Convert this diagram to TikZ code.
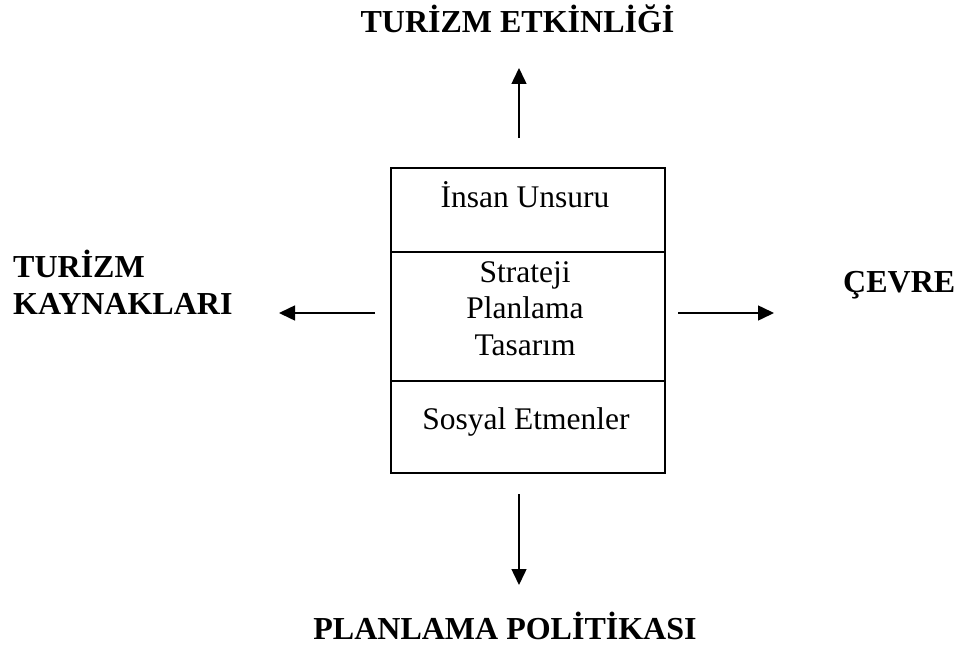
\documentclass[tikz,border=0pt]{standalone}
\usepackage{fontspec}
\setmainfont{Liberation Serif}
\usetikzlibrary{arrows.meta}
\begin{document}
\begin{tikzpicture}[x=1pt,y=-1pt,
  lbl/.style={font=\fontsize{32}{37}\selectfont\bfseries, inner sep=0pt},
  boxtxt/.style={font=\fontsize{31.5}{36.5}\selectfont, inner sep=0pt, align=center},
  cell/.style={draw, line width=1.5pt, minimum width=274pt, inner sep=0pt, anchor=north west},
  arr/.style={line width=1.5pt, -{Triangle[length=16pt,width=15pt]}}
]
\useasboundingbox (0,0) rectangle (955,650);
% box cells
\node[cell, minimum height=84pt] (c1) at (390,167) {};
\node[cell, minimum height=129pt] (c2) at (390,251) {};
\node[cell, minimum height=92pt] (c3) at (390,380) {};
% box texts
\node[boxtxt, anchor=base] (t1) at (525,207) {İnsan Unsuru};
\node[boxtxt, anchor=base] (t2a) at (525,282) {Strateji};
\node[boxtxt, anchor=base] (t2b) at (525,318) {Planlama};
\node[boxtxt, anchor=base] (t2c) at (525,355) {Tasarım};
\node[boxtxt, anchor=base] (t3) at (526,429) {Sosyal Etmenler};
% outer labels
\node[lbl, anchor=base] (top) at (517.5,33) {TURİZM ETKİNLİĞİ};
\node[lbl, anchor=base] (bot) at (505,639) {PLANLAMA POLİTİKASI};
\node[lbl, anchor=base west] (kay1) at (13,277) {TURİZM};
\node[lbl, anchor=base west] (kay2) at (13,314) {KAYNAKLARI};
\node[lbl, anchor=base west] (cev) at (843,292) {ÇEVRE};
% arrow endpoints
\coordinate (ua) at (519,138);
\coordinate (ub) at (519,68);
\coordinate (da) at (519,494);
\coordinate (db) at (519,585);
\coordinate (la) at (375,313);
\coordinate (lb) at (279,313);
\coordinate (ra) at (678,313);
\coordinate (rb) at (774,313);
\draw[arr] (ua) -- (ub);
\draw[arr] (da) -- (db);
\draw[arr] (la) -- (lb);
\draw[arr] (ra) -- (rb);
\end{tikzpicture}
\end{document}
